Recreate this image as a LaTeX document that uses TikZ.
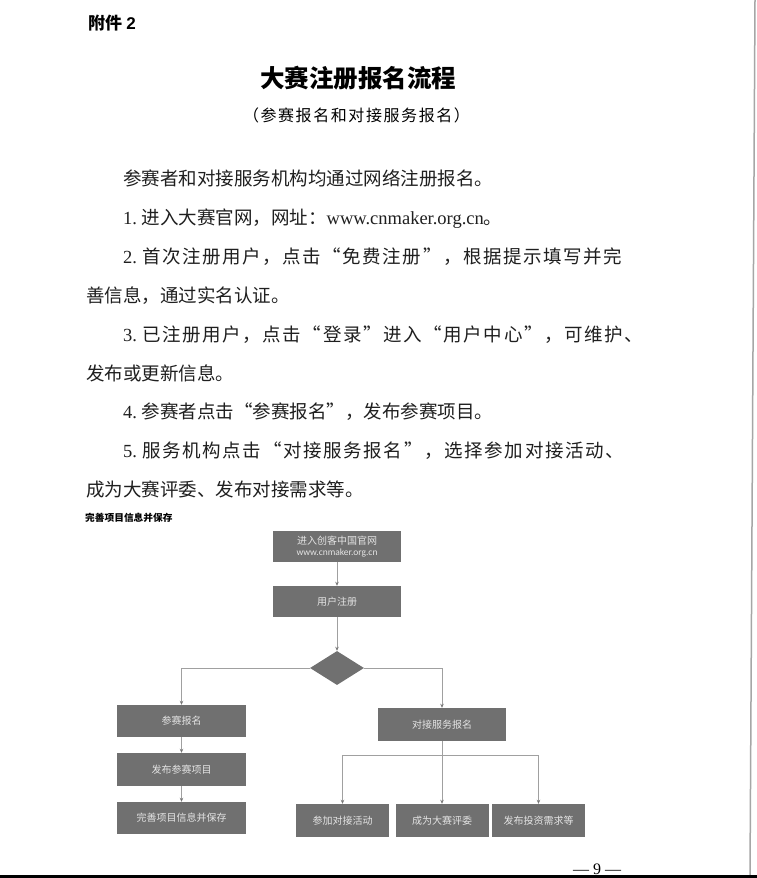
\documentclass[tikz,border=0pt]{standalone}
\usepackage{fontspec}
\setmainfont{Liberation Serif}
\newfontfamily\cjk{Noto Sans CJK SC}
\newfontfamily\carl{Carlito}
\newfontfamily\lsans{Liberation Sans}
\usetikzlibrary{shapes.geometric,arrows.meta}
\newcommand\zh[1]{{\cjk #1}}
\makeatletter
\newcommand\spreadchars[1]{\let\sp@first\@empty\@tfor\sp@c:=#1\do{\ifx\sp@first\relax\hskip0pt plus 1fil\fi\let\sp@first\relax\sp@c}}
\makeatother
\newcommand\zhs[1]{{\cjk\spreadchars{#1}}}
\definecolor{boxgray}{RGB}{112,112,112}
\definecolor{boxtext}{RGB}{228,228,228}
\definecolor{linegray}{RGB}{160,160,160}
\definecolor{tipgray}{RGB}{120,120,120}
\tikzset{
  body/.style={anchor=base west, inner sep=0pt, font=\fontsize{18.5}{20}\selectfont, text=black!88},
  fbox/.style={rectangle, fill=boxgray, text=boxtext, inner sep=0pt, align=center,
    font=\cjk\fontsize{10}{12}\selectfont},
  conn/.style={draw=linegray, line width=0.7pt, -{Stealth[length=4pt,width=3.5pt,color=tipgray]}},
  plain/.style={draw=linegray, line width=0.7pt}
}
\begin{document}
\begin{tikzpicture}[x=1pt,y=-1pt]
\useasboundingbox (0,0) rectangle (757,878);
\fill[white] (0,0) rectangle (757,878);
% page edges
\draw[gray!70, line width=1.5pt] (755,0) -- (750,875);
\fill[black] (0,875) rectangle (757,878);

% header
\node[anchor=base west, inner sep=0pt, font=\fontsize{17}{18}\selectfont\bfseries] (att) at (88,29.5) {\zh{附件} {\lsans 2}};
\node[anchor=base, inner sep=0pt, font=\fontsize{24.5}{26}\selectfont] (title) at (358,87.3) {\zh{\bfseries 大赛注册报名流程}};
\node[anchor=base, inner sep=0pt, font=\fontsize{16}{18}\selectfont] (sub) at (356.5,121.5) {\makebox[227pt][s]{\zhs{（参赛报名和对接服务报名）}}};

% body text
\node[body] (t0) at (123,185) {\zh{参赛者和对接服务机构均通过网络注册报名。}};
\node[body] (t1) at (123,224) {1.\ \zh{进入大赛官网，网址：}www.cnmaker.org.cn\zh{。}};
\node[body] (t2) at (123,263) {\makebox[499pt][s]{2.\hspace{5pt}\zhs{首次注册用户，点击“免费注册”，根据提示填写并完}}};
\node[body] (t3) at (86,302) {\zh{善信息，通过实名认证。}};
\node[body] (t4) at (123,341) {\makebox[520pt][s]{3.\hspace{5pt}\zhs{已注册用户，点击“登录”进入“用户中心”，可维护、}}};
\node[body] (t5) at (86,380) {\zh{发布或更新信息。}};
\node[body] (t6) at (123,418) {4.\ \zh{参赛者点击“参赛报名”，发布参赛项目。}};
\node[body] (t7) at (123,457) {\makebox[501pt][s]{5.\hspace{5pt}\zhs{服务机构点击“对接服务报名”，选择参加对接活动、}}};
\node[body] (t8) at (86,496) {\zh{成为大赛评委、发布对接需求等。}};

\node[anchor=base west, inner sep=0pt, font=\fontsize{9.7}{11}\selectfont] (cap) at (85,521.7) {\zh{\bfseries 完善项目信息并保存}};

% flowchart
\node[fbox, minimum width=128pt, minimum height=31pt] (b1) at (337,546.5)
  {\zh{进入创客中国官网}\\[-1pt]{\carl\fontsize{9.5}{11}\selectfont www.cnmaker.org.cn}};
\node[fbox, minimum width=128pt, minimum height=31pt] (b2) at (337,601.5) {用户注册};
\node[diamond, fill=boxgray, inner sep=0pt, minimum width=54pt, minimum height=34pt, aspect=1.6] (dia) at (337,668) {};

\node[fbox, minimum width=129pt, minimum height=32pt] (s1) at (181.5,721) {参赛报名};
\node[fbox, minimum width=129pt, minimum height=33pt] (s2) at (181.5,769.5) {发布参赛项目};
\node[fbox, minimum width=129pt, minimum height=32pt] (s3) at (181.5,818) {完善项目信息并保存};

\node[fbox, minimum width=128pt, minimum height=33pt] (d1) at (442,724.5) {对接服务报名};
\node[fbox, minimum width=93pt, minimum height=33pt] (c1) at (342.5,820.5) {参加对接活动};
\node[fbox, minimum width=93pt, minimum height=33pt] (c2) at (442,820.5) {成为大赛评委};
\node[fbox, minimum width=93pt, minimum height=33pt] (c3) at (538.5,820.5) {发布投资需求等};

\draw[conn] (b1) -- (b2);
\draw[conn] (b2) -- (dia);
\draw[conn] (dia.west) -| (s1.north);
\draw[conn] (dia.east) -| (d1.north);
\draw[conn] (s1) -- (s2);
\draw[conn] (s2) -- (s3);
\coordinate (bj) at (442,755);
\draw[conn] (d1.south) -- (c2.north);
\draw[conn] (bj) -| (c1.north);
\draw[conn] (bj) -| (c3.north);

% page number
\node[anchor=base, inner sep=0pt, font=\fontsize{16}{18}\selectfont] (pg) at (597,874) {— 9 —};
\end{tikzpicture}
\end{document}
